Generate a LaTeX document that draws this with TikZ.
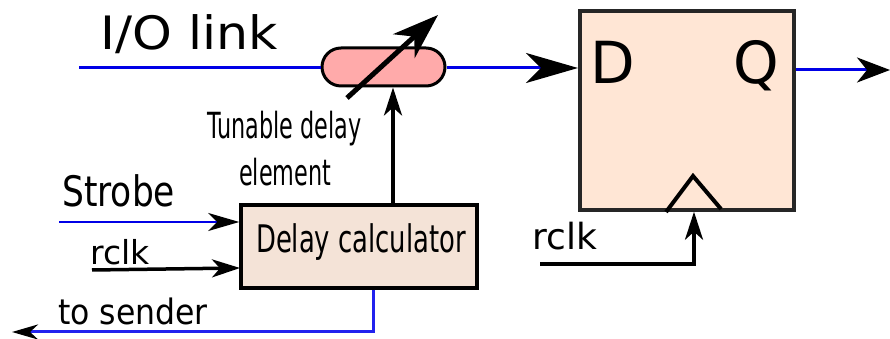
\documentclass[tikz,border=0pt]{standalone}
\usepackage{fontspec}
\setmainfont{DejaVu Sans}
\usetikzlibrary{arrows.meta}
\usetikzlibrary{shapes.misc}
\definecolor{linkblue}{RGB}{0,0,230}
\definecolor{sendblue}{RGB}{34,34,238}
\definecolor{pillpink}{RGB}{255,170,170}
\definecolor{ffpeach}{RGB}{255,230,213}
\definecolor{calcbeige}{RGB}{244,227,215}
\tikzset{%
  bigedge/.style={line width=3pt, linkblue, -{Stealth[black, length=52pt, width=30pt, inset=15pt]}},
  qedge/.style={line width=3pt, linkblue, -{Stealth[black, length=33pt, width=25pt, inset=10pt]}},
  thinedge/.style={line width=1.5pt, linkblue, -{Stealth[black, length=31pt, width=18pt, inset=9pt]}},
  blackedge/.style={line width=3.5pt, black, -{Stealth[black, length=28pt, width=18pt, inset=8pt]}},
  sendedge/.style={line width=3pt, sendblue, -{Stealth[black, length=26pt, width=15pt, inset=8pt]}},
  mylabel/.style={inner sep=0pt, anchor=base west, transform shape},
  mybox/.style={draw=black!85, line width=3.5pt, inner sep=0pt, rectangle}
}
\begin{document}
\begin{tikzpicture}[x=1pt, y=1pt]
  \useasboundingbox (0,0) rectangle (890,339);

% boxes
\node [mybox, fill=ffpeach, minimum width=214pt, minimum height=199pt] (FF) at (687,228.5) {};
\node [mybox, fill=calcbeige, draw=black, minimum width=236pt, minimum height=83pt] (Calc) at (359,92.5) {};
\node [rounded rectangle, draw=black, line width=3pt, fill=pillpink, minimum width=123pt, minimum height=38pt, inner sep=0pt] (Delay) at (383.5,272) {};

% free ends
\coordinate (LinkIn) at (79,271);
\coordinate (LinkOut) at (578,271);
\coordinate (QOut) at (890,269);
\coordinate (StrobeIn) at (59,117);
\coordinate (RclkIn) at (92,69);
\coordinate (RclkEnd) at (240,71);
\coordinate (SendOut) at (12,7);
\coordinate (SendTurn) at (373,7);
\coordinate (TuneA) at (347,241);
\coordinate (TuneB) at (438,324);
\coordinate (CtlX) at (393,0);
\coordinate (ClkIn) at (540,75);
\coordinate (ClkTurn) at (694,75);
\coordinate (ClkA) at (666,127);
\coordinate (ClkB) at (693,163);
\coordinate (ClkC) at (721,130);

\draw [line width=3pt, linkblue] (LinkIn) -- (Delay.west |- LinkIn);
\draw [bigedge] (Delay.east |- LinkOut) -- (LinkOut);
\draw [qedge] (FF.east |- QOut) -- (QOut);
\draw [blackedge] (Calc.north -| CtlX) -- (Delay.south -| CtlX);
\draw [line width=5pt, -{Stealth[length=46pt, width=32pt, inset=14pt]}] (TuneA) -- (TuneB);

\draw [thinedge] (StrobeIn) -- (Calc.west |- StrobeIn);
\draw [blackedge] (RclkIn) -- (RclkEnd);
\draw [sendedge] (Calc.south -| SendTurn) -- (SendTurn) -- (SendOut);

\draw [line width=4pt] (ClkA) -- (ClkB) -- (ClkC);
\draw [blackedge] (ClkIn) -- (ClkTurn) -- (ClkTurn |- FF.south);

% labels
\node [mylabel, xscale=1.1] (LinkText) at (100,289) {\fontsize{46pt}{46pt}\selectfont I/O link};
\node [mylabel] (DText) at (590,255) {\fontsize{58pt}{58pt}\selectfont D};
\node [mylabel] (QText) at (733,255) {\fontsize{58pt}{58pt}\selectfont Q};
\node [mylabel, xscale=.62] (TuneText) at (207,200) {\fontsize{36pt}{36pt}\selectfont Tunable delay};
\node [mylabel, xscale=.62] (ElemText) at (239,153) {\fontsize{36pt}{36pt}\selectfont element};
\node [mylabel, xscale=.82] (StrobeText) at (62,132) {\fontsize{42pt}{42pt}\selectfont Strobe};
\node [mylabel] (RclkText) at (90,74) {\fontsize{33pt}{33pt}\selectfont rclk};
\node [mylabel, xscale=.9] (SendText) at (58,14) {\fontsize{35pt}{35pt}\selectfont to sender};
\node [mylabel, xscale=.68] (CalcText) at (256,86) {\fontsize{38pt}{38pt}\selectfont Delay calculator};
\node [mylabel] (ClkText) at (532,89) {\fontsize{36pt}{36pt}\selectfont rclk};

\end{tikzpicture}
\end{document}
